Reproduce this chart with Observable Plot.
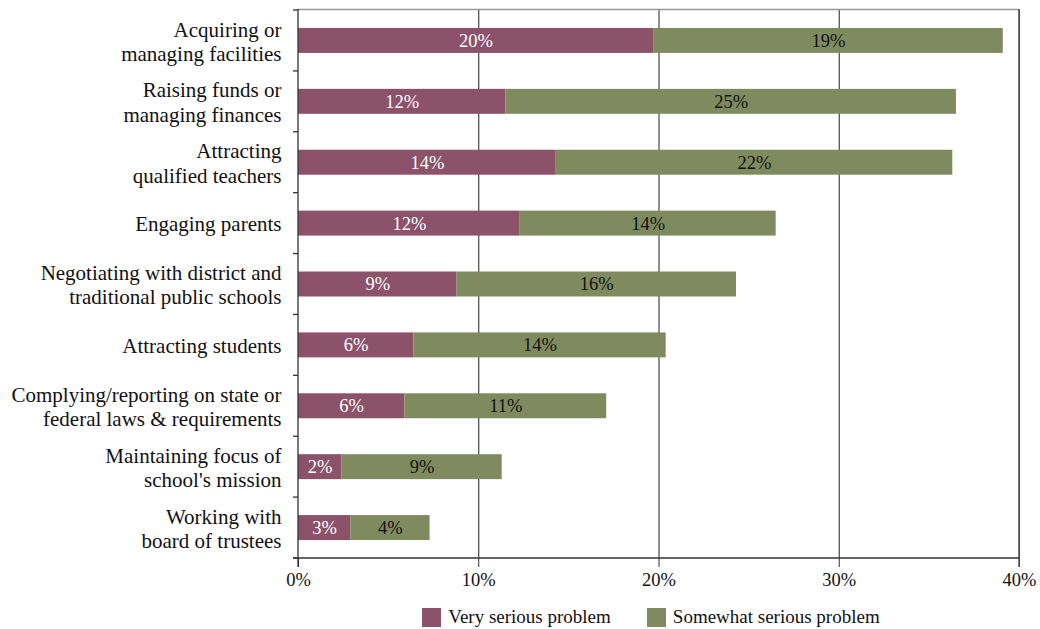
<!DOCTYPE html>
<html><head><meta charset="utf-8">
<script src="https://cdn.jsdelivr.net/npm/d3@7"></script>
<script src="https://cdn.jsdelivr.net/npm/@observablehq/plot@0.6"></script>
<style>
body{margin:0;background:#fff;font-family:"Liberation Serif",serif;}
#chart svg{display:block;}
#legend{width:1040px;box-sizing:border-box;padding-left:262px;display:flex;justify-content:center;align-items:center;height:38px;font-size:19px;color:#111;}
.item{display:flex;align-items:center;margin:0 18px;}
.sw{width:19px;height:19px;margin-right:7px;}
</style></head><body>
<div id="chart"></div>
<div id="legend"></div>
<script>
const categories = [
  "Acquiring or\nmanaging facilities",
  "Raising funds or\nmanaging finances",
  "Attracting\nqualified teachers",
  "Engaging parents",
  "Negotiating with district and\ntraditional public schools",
  "Attracting students",
  "Complying/reporting on state or\nfederal laws & requirements",
  "Maintaining focus of\nschool's mission",
  "Working with\nboard of trustees"
];
const verySerious = [19.7, 11.5, 14.3, 12.3, 8.8, 6.4, 5.9, 2.4, 2.9];
const somewhatSerious = [19.4, 25.0, 22.0, 14.2, 15.5, 14.0, 11.2, 8.9, 4.4];
const veryLabels = ["20%","12%","14%","12%","9%","6%","6%","2%","3%"];
const somewhatLabels = ["19%","25%","22%","14%","16%","14%","11%","9%","4%"];
const xTicks = [0, 10, 20, 30, 40];
const gridTicks = [10, 20, 30, 40];
const seriesNames = ["Very serious problem", "Somewhat serious problem"];
const seriesColors = ["#8b5269", "#7f8b5f"];

const rows = [];
categories.forEach((c, i) => {
  rows.push({cat: c, series: seriesNames[0], x1: 0, x2: verySerious[i], label: veryLabels[i]});
  rows.push({cat: c, series: seriesNames[1], x1: verySerious[i], x2: verySerious[i] + somewhatSerious[i], label: somewhatLabels[i]});
});
const veryRows = rows.filter(d => d.series === seriesNames[0]);
const someRows = rows.filter(d => d.series === seriesNames[1]);

const frameLines = (index, scales, values, dims) => {
  const {width, height, marginLeft, marginRight, marginTop, marginBottom} = dims;
  const x0 = marginLeft, x1 = width - marginRight, y0 = marginTop, y1 = height - marginBottom;
  const g = d3.create("svg:g");
  g.append("line").attr("x1", x0).attr("x2", x1).attr("y1", y0 - 0.5).attr("y2", y0 - 0.5).attr("stroke", "#999").attr("stroke-width", 1.5);
  g.append("line").attr("x1", x1).attr("x2", x1).attr("y1", y0 - 1).attr("y2", y1 + 9).attr("stroke", "#555").attr("stroke-width", 1.6);
  g.append("line").attr("x1", x0).attr("x2", x0).attr("y1", y0 - 1).attr("y2", y1 + 9).attr("stroke", "#333").attr("stroke-width", 1.3);
  g.append("line").attr("x1", x0 - 5).attr("x2", x1).attr("y1", y1).attr("y2", y1).attr("stroke", "#333").attr("stroke-width", 1.3);
  const n = categories.length, step = (y1 - y0) / n;
  for (let i = 0; i <= n; i++) {
    g.append("line").attr("x1", x0 - 5).attr("x2", x0).attr("y1", y0 + i * step).attr("y2", y0 + i * step).attr("stroke", "#333").attr("stroke-width", 1.3);
  }
  return g.node();
};

const hasAxisMark = typeof Plot.axisX === "function";
const xAxisMarks = hasAxisMark
  ? [Plot.axisX(xTicks, {tickFormat: d => d + "%", tickSize: 9, tickPadding: 5, fontSize: 18.5, label: null, stroke: "#333"})]
  : [];

const chart = Plot.plot({
  width: 1040,
  height: 598,
  marginTop: 10,
  marginBottom: 40,
  marginLeft: 298,
  marginRight: 21,
  style: {fontFamily: "'Liberation Serif', serif", fontSize: "18.5px", background: "#fff", color: "#111"},
  x: hasAxisMark
    ? {domain: [0, 40], label: null}
    : {domain: [0, 40], ticks: xTicks, tickFormat: d => d + "%", tickSize: 9, tickPadding: 5, label: null},
  y: {domain: categories, paddingInner: 0.59, paddingOuter: 0.295, round: false, axis: null},
  color: {domain: seriesNames, range: seriesColors},
  marks: [
    Plot.ruleX(gridTicks, {stroke: "#333", strokeWidth: 1.1}),
    Plot.barX(rows, {y: "cat", x1: "x1", x2: "x2", fill: "series"}),
    Plot.text(veryRows, {y: "cat", x: d => (d.x1 + d.x2) / 2, text: "label", fill: "#fff", fontSize: 18.5}),
    Plot.text(someRows, {y: "cat", x: d => (d.x1 + d.x2) / 2, text: "label", fill: "#111", fontSize: 18.5}),
    Plot.text(categories, {y: d => d, text: d => d, frameAnchor: "left", textAnchor: "end", dx: -17, fontSize: 21, lineHeight: 1.16, fill: "#111"}),
    ...xAxisMarks,
    frameLines
  ]
});
document.getElementById("chart").appendChild(chart);

const legend = document.getElementById("legend");
seriesNames.forEach((name, i) => {
  const item = document.createElement("div");
  item.className = "item";
  const sw = document.createElement("div");
  sw.className = "sw";
  sw.style.background = seriesColors[i];
  const lab = document.createElement("span");
  lab.textContent = name;
  item.appendChild(sw);
  item.appendChild(lab);
  legend.appendChild(item);
});
</script>
</body></html>
